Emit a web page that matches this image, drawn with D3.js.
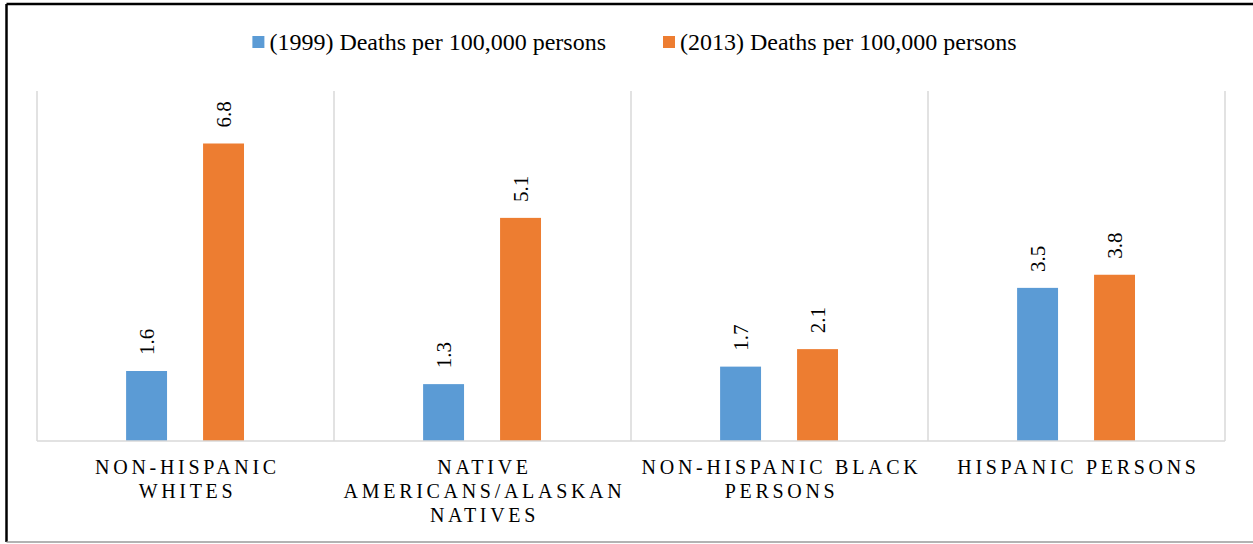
<!DOCTYPE html>
<html lang="en">
<head>
  <meta charset="UTF-8">
  <title>Deaths per 100,000 persons, 1999 vs 2013</title>
  <script src="https://d3js.org/d3.v7.min.js"></script>
  <style>
    body { margin: 0; background: #fff; }
    svg { display: block; }
    svg text { font-family: "Liberation Serif", "Times New Roman", Times, "DejaVu Serif", serif; }
  </style>
</head>
<body>
  <div id="chart"></div>
  <script>
    // data
    const categories = ["Non-Hispanic Whites", "Native Americans/Alaskan Natives", "Non-Hispanic Black Persons", "Hispanic Persons"];
    const categoryLines = [
      ["NON-HISPANIC", "WHITES"],
      ["NATIVE", "AMERICANS/ALASKAN", "NATIVES"],
      ["NON-HISPANIC BLACK", "PERSONS"],
      ["HISPANIC PERSONS"]
    ];
    const seriesNames = ["(1999) Deaths per 100,000 persons", "(2013) Deaths per 100,000 persons"];
    const values1999 = [1.6, 1.3, 1.7, 3.5];
    const values2013 = [6.8, 5.1, 2.1, 3.8];
    const colors = ["#5b9bd5", "#ed7d31"];

    const serif = "'Liberation Serif', 'Times New Roman', Times, 'DejaVu Serif', serif";
    const width = 1253, height = 544;
    const plotLeft = 37, plotRight = 1225, plotTop = 91, plotBottom = 441;

    const svg = d3.select("#chart").append("svg")
      .attr("width", width)
      .attr("height", height)
      .attr("font-family", serif);

    // outer frame
    svg.append("line").attr("x1", 6.5).attr("x2", width).attr("y1", 4).attr("y2", 4)
      .attr("stroke", "#000").attr("stroke-width", 2.5);
    svg.append("line").attr("x1", 6.5).attr("x2", 6.5).attr("y1", 4).attr("y2", 542)
      .attr("stroke", "#000").attr("stroke-width", 2.5);
    svg.append("line").attr("x1", 6.5).attr("x2", width).attr("y1", 542).attr("y2", 542)
      .attr("stroke", "#9a9a9a").attr("stroke-width", 1.5);

    const x0 = d3.scaleBand()
      .domain(categories)
      .range([plotLeft, plotRight]);

    const bw = x0.bandwidth();
    const x1 = d3.scaleBand()
      .domain([0, 1])
      .range([bw * 0.3, bw * 0.697])
      .paddingInner(0.468);

    const y = d3.scaleLinear()
      .domain([0, 8])
      .range([plotBottom, plotTop]);

    // category separators
    const seps = categories.map(c => x0(c)).concat([plotRight]);
    svg.append("g").selectAll("line")
      .data(seps)
      .join("line")
      .attr("x1", d => d).attr("x2", d => d)
      .attr("y1", plotTop).attr("y2", plotBottom)
      .attr("stroke", "#d9d9d9").attr("stroke-width", 1.5);

    const rows = categories.map((c, i) => ({cat: c, vals: [values1999[i], values2013[i]]}));

    const groups = svg.append("g").selectAll("g")
      .data(rows)
      .join("g")
      .attr("transform", d => `translate(${x0(d.cat)},0)`);

    groups.selectAll("rect")
      .data(d => d.vals.map((v, s) => ({v, s})))
      .join("rect")
      .attr("x", d => x1(d.s))
      .attr("width", x1.bandwidth())
      .attr("y", d => y(d.v))
      .attr("height", d => y(0) - y(d.v))
      .attr("fill", d => colors[d.s]);

    // value labels, rotated
    groups.selectAll("text")
      .data(d => d.vals.map((v, s) => ({v, s})))
      .join("text")
      .attr("transform", d => `translate(${x1(d.s) + x1.bandwidth() / 2},${y(d.v) - 16}) rotate(-90)`)
      .attr("dy", "0.35em")
      .attr("font-size", 21)
      .attr("fill", "#000")
      .text(d => d.v.toFixed(1));

    // baseline
    svg.append("line")
      .attr("x1", plotLeft).attr("x2", plotRight)
      .attr("y1", plotBottom).attr("y2", plotBottom)
      .attr("stroke", "#d9d9d9").attr("stroke-width", 1.5);

    // category labels
    const catLabels = svg.append("g").selectAll("text")
      .data(categories)
      .join("text")
      .attr("text-anchor", "middle")
      .attr("font-size", 20)
      .attr("letter-spacing", "3.7px")
      .attr("fill", "#000");
    catLabels.each(function(c, i) {
      d3.select(this).selectAll("tspan")
        .data(categoryLines[i])
        .join("tspan")
        .attr("x", x0(c) + bw / 2 + 2)
        .attr("y", (d, j) => 474 + j * 24)
        .text(d => d);
    });

    // legend
    const legend = svg.append("g");
    const items = legend.selectAll("g")
      .data(seriesNames)
      .join("g");
    items.append("rect")
      .attr("width", 12).attr("height", 12)
      .attr("y", 36)
      .attr("fill", (d, i) => colors[i]);
    items.append("text")
      .attr("x", 17)
      .attr("y", 50)
      .attr("font-size", 24)
      .attr("fill", "#000")
      .text(d => d);

    let pos = 0;
    const offsets = [];
    items.each(function() {
      offsets.push(pos);
      pos += this.getBBox().width + 57;
    });
    const total = pos - 57;
    const start = 634.5 - total / 2;
    items.attr("transform", (d, i) => `translate(${start + offsets[i]},0)`);
  </script>
</body>
</html>
